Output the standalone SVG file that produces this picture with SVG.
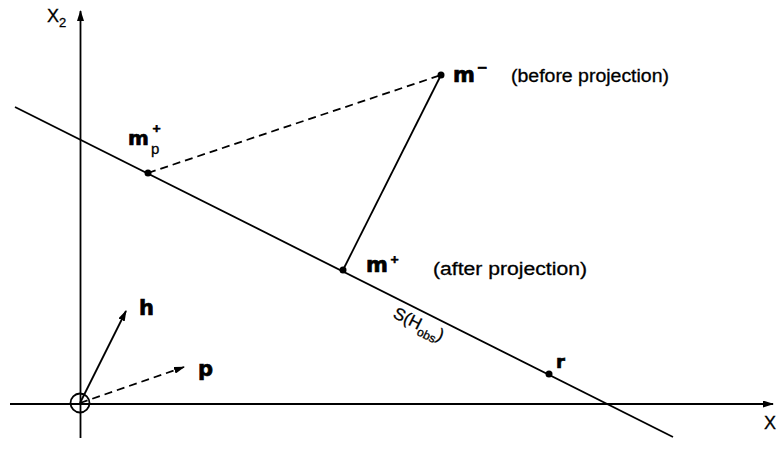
<svg xmlns="http://www.w3.org/2000/svg" width="777" height="467" viewBox="0 0 777 467">
<style>
.ln{stroke:#000;stroke-width:1.8;fill:none}
.dash{stroke-dasharray:8 5}
.dot{fill:#000}
.lbl{font-family:"DejaVu Sans","Liberation Sans",sans-serif;font-weight:bold;fill:#000;stroke:#000;stroke-width:0.7}
.txt{font-family:"Liberation Sans",Arial,sans-serif;fill:#000;stroke:#000;stroke-width:0.3}
</style>
<defs>
<marker id="arr" markerUnits="userSpaceOnUse" markerWidth="11" markerHeight="7" refX="10" refY="3.5" orient="auto">
<path d="M0,0 L11,3.5 L0,7 z" fill="#000"/>
</marker>
</defs>
<rect width="777" height="467" fill="#fff"/>
<g id="axes">
<line class="ln" x1="80.5" y1="438" x2="80.5" y2="11" marker-end="url(#arr)"/>
<line class="ln" x1="10" y1="404" x2="773" y2="404" marker-end="url(#arr)"/>
<circle class="ln" cx="80" cy="403" r="9.5"/>
<text class="txt" x="47" y="22" font-size="18">X<tspan font-size="13" dy="5">2</tspan></text>
<text class="txt" x="764" y="429" font-size="18">X</text>
</g>
<g id="connectors">
<line id="S-line" class="ln" x1="15" y1="107" x2="673" y2="437"/>
<line class="ln dash" x1="148" y1="173" x2="441" y2="75"/>
<line class="ln" x1="343" y1="270" x2="441" y2="75"/>
<line class="ln" x1="80" y1="403" x2="126" y2="311" marker-end="url(#arr)"/>
<line class="ln dash" x1="80" y1="403" x2="184" y2="367" marker-end="url(#arr)"/>
</g>
<g id="node-mp">
<circle class="dot" cx="148" cy="173" r="3.5"/>
<text class="lbl" x="128" y="145" font-size="20">m</text>
<text class="txt" x="151" y="154" font-size="15">p</text>
<text class="lbl" x="152" y="132" font-size="11">+</text>
</g>
<g id="node-mminus">
<circle class="dot" cx="441" cy="75" r="3.5"/>
<text class="lbl" x="453" y="82" font-size="21">m</text>
<text class="lbl" x="477" y="72" font-size="13">−</text>
<text class="txt" x="511" y="82" font-size="18" textLength="158" lengthAdjust="spacingAndGlyphs">(before projection)</text>
</g>
<g id="node-mplus">
<circle class="dot" cx="343" cy="270" r="3.5"/>
<text class="lbl" x="366" y="272" font-size="21">m</text>
<text class="lbl" x="390" y="263" font-size="11">+</text>
<text class="txt" x="433" y="275" font-size="18" textLength="154" lengthAdjust="spacingAndGlyphs">(after projection)</text>
</g>
<g id="node-r">
<circle class="dot" cx="549" cy="374" r="3.5"/>
<text class="lbl" x="556" y="368" font-size="18">r</text>
</g>
<g id="label-S">
<text class="txt" font-size="17" transform="translate(392,317) rotate(26.6)">S(H<tspan font-size="12" dy="5">obs</tspan><tspan dy="-5">)</tspan></text>
</g>
<g id="node-h">
<text class="lbl" x="139" y="315" font-size="21">h</text>
</g>
<g id="node-p">
<text class="lbl" x="198" y="376" font-size="21">p</text>
</g>
</svg>
